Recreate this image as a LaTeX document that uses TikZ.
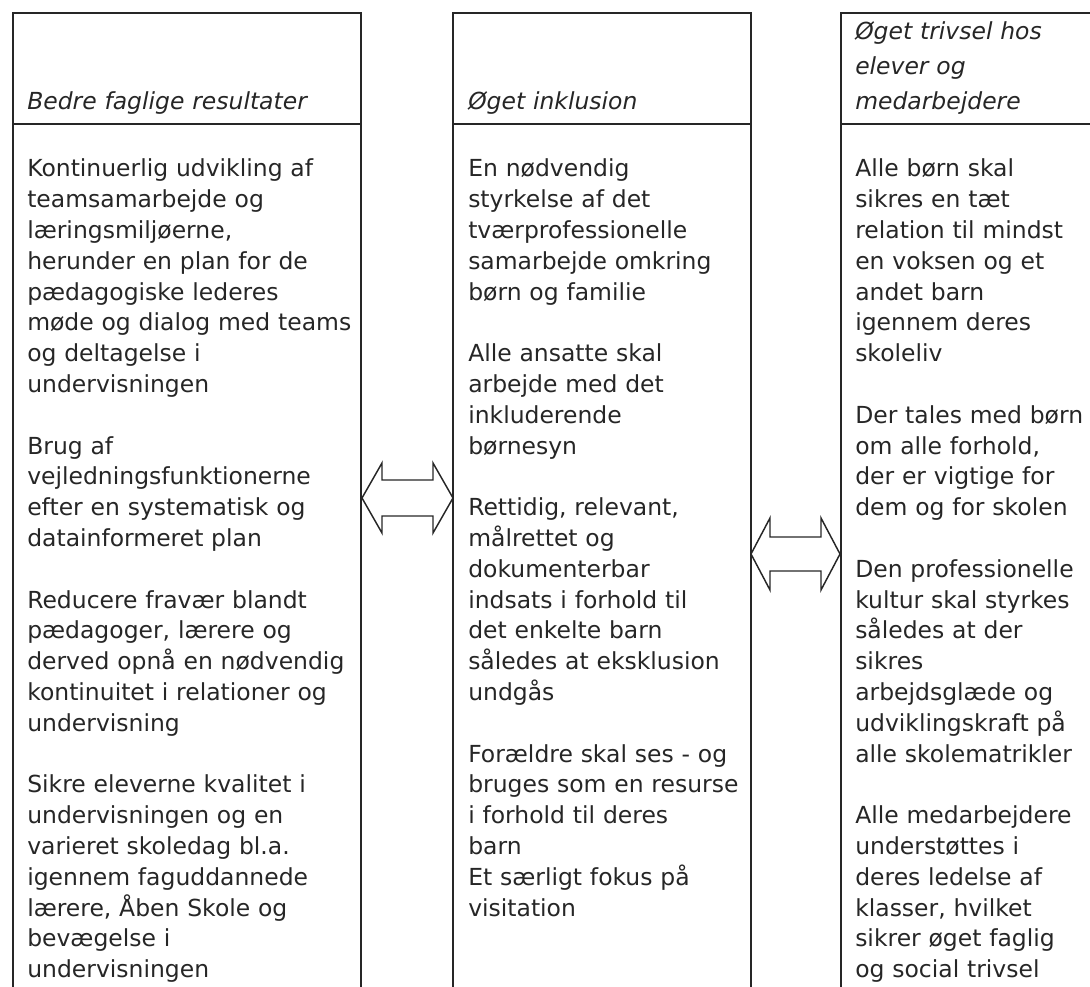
\documentclass[tikz,border=0pt]{standalone}
\usepackage{fontspec}
\setmainfont{DejaVu Sans}
\usetikzlibrary{calc}

\begin{document}
\begin{tikzpicture}[x=0.75pt,y=-0.75pt,
    frame/.style={draw=black!85,line width=2.2pt},
    headtext/.style={anchor=base west,inner sep=0pt,text width=300pt,align=left,
        text=black!85,font=\fontsize{17.6}{26.25}\selectfont\itshape},
    bodytext/.style={anchor=base west,inner sep=0pt,text width=300pt,align=left,
        text=black!85,font=\fontsize{17.6}{23.1}\selectfont},
    arrowline/.style={draw=black!85,line width=1.1pt,line join=miter}]
    \useasboundingbox (0,0) rectangle (1090,987);
    \clip (0,0) rectangle (1090,987);

    % the three columns
    \draw[frame] (13,13) rectangle (361,1100);
    \draw[frame] (13,124) -- (361,124);
    \draw[frame] (453,13) rectangle (751,1100);
    \draw[frame] (453,124) -- (751,124);
    \draw[frame] (841,13) rectangle (1200,1100);
    \draw[frame] (841,124) -- (1200,124);

    % headers
    \node[headtext] (headResults) at (27,110) {Bedre faglige resultater};
    \node[headtext] (headInclusion) at (468,110) {Øget inklusion};
    \node[headtext] (headWellbeing) at (855,40) {Øget trivsel hos\\elever og\\medarbejdere};

    % bodies
    \node[bodytext] (bodyResults) at (27,177) {Kontinuerlig udvikling af\\teamsamarbejde og\\læringsmiljøerne,\\herunder en plan for de\\pædagogiske lederes\\møde og dialog med teams\\og deltagelse i\\undervisningen\\[\baselineskip]
        Brug af\\vejledningsfunktionerne\\efter en systematisk og\\datainformeret plan\\[\baselineskip]
        Reducere fravær blandt\\pædagoger, lærere og\\derved opnå en nødvendig\\kontinuitet i relationer og\\undervisning\\[\baselineskip]
        Sikre eleverne kvalitet i\\undervisningen og en\\varieret skoledag bl.a.\\igennem faguddannede\\lærere, Åben Skole og\\bevægelse i\\undervisningen};
    \node[bodytext] (bodyInclusion) at (468,177) {En nødvendig\\styrkelse af det\\tværprofessionelle\\samarbejde omkring\\børn og familie\\[\baselineskip]
        Alle ansatte skal\\arbejde med det\\inkluderende\\børnesyn\\[\baselineskip]
        Rettidig, relevant,\\målrettet og\\dokumenterbar\\indsats i forhold til\\det enkelte barn\\således at eksklusion\\undgås\\[\baselineskip]
        Forældre skal ses - og\\bruges som en resurse\\i forhold til deres\\barn\\Et særligt fokus på\\visitation};
    \node[bodytext] (bodyWellbeing) at (855,177) {Alle børn skal\\sikres en tæt\\relation til mindst\\en voksen og et\\andet barn\\igennem deres\\skoleliv\\[\baselineskip]
        Der tales med børn\\om alle forhold,\\der er vigtige for\\dem og for skolen\\[\baselineskip]
        Den professionelle\\kultur skal styrkes\\således at der\\sikres\\arbejdsglæde og\\udviklingskraft på\\alle skolematrikler\\[\baselineskip]
        Alle medarbejdere\\understøttes i\\deres ledelse af\\klasser, hvilket\\sikrer øget faglig\\og social trivsel};

    % double arrows between the columns
    \coordinate (arrowAL) at (362,498);
    \coordinate (arrowAR) at (453,498);
    \draw[arrowline] (arrowAL) -- ++(20,-35) -- ++(0,17) -- ($(arrowAR)+(-20,-18)$)
        -- ++(0,-17) -- (arrowAR) -- ++(-20,35) -- ++(0,-17) -- ($(arrowAL)+(20,18)$)
        -- ++(0,17) -- cycle;
    \coordinate (arrowBL) at (751,554);
    \coordinate (arrowBR) at (840,554);
    \draw[arrowline] (arrowBL) -- ++(19,-36) -- ++(0,19) -- ($(arrowBR)+(-19,-17)$)
        -- ++(0,-19) -- (arrowBR) -- ++(-19,36) -- ++(0,-19) -- ($(arrowBL)+(19,17)$)
        -- ++(0,19) -- cycle;
\end{tikzpicture}
\end{document}
